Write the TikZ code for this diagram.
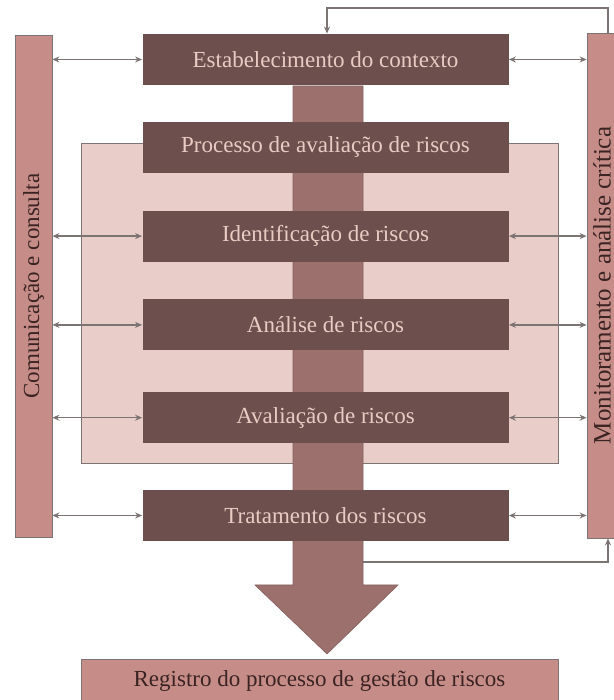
\documentclass[tikz,border=0pt]{standalone}
\usepackage{fontspec}
\setmainfont{Liberation Serif}
\usetikzlibrary{arrows.meta,positioning}
\definecolor{stepdark}{HTML}{6D504D}
\definecolor{steptext}{HTML}{EACBC4}
\definecolor{trunk}{HTML}{9B706D}
\definecolor{sidebar}{HTML}{C68D88}
\definecolor{framefill}{HTML}{E9CDC9}
\definecolor{linkgray}{HTML}{7C7373}
\definecolor{darktext}{HTML}{3A2322}

\begin{document}
\begin{tikzpicture}[x=0.5pt, y=0.5pt,
  stepbox/.style={fill=stepdark, text=steptext, minimum width=183pt,
                  minimum height=25.5pt, inner sep=0pt,
                  font=\fontsize{11.5}{13}\selectfont},
  sidebox/.style={fill=sidebar, draw=linkgray, line width=0.4pt, rotate=90,
                  inner sep=0pt, text=darktext,
                  font=\fontsize{11.5}{13}\selectfont},
  arr/.style={{Stealth[length=3.5pt,width=3pt]}-{Stealth[length=3.5pt,width=3pt]},
              linkgray, line width=0.7pt},
  fb/.style={-{Stealth[length=3.5pt,width=3pt]}, linkgray, line width=0.7pt}
]
  \useasboundingbox (0,0) rectangle (614,700);
  \clip (0,0) rectangle (614,700);

  % frame of the assessment process
  \draw[fill=framefill, draw=linkgray, line width=0.4pt] (81,237) rectangle (558,557);

  % trunk and big arrow
  \filldraw[fill=trunk, draw=trunk!85!black, line width=0.3pt]
    (293,614) -- (293,115) -- (255,115) -- (327,46) -- (398,115)
    -- (363,115) -- (363,614) -- cycle;

  \node[stepbox] (ctx) at (325.5,640.5) {Estabelecimento do contexto};
  \node[stepbox, below=18pt of ctx] (proc) {Processo de avaliação de riscos};
  \node[stepbox, below=18.5pt of proc] (ident) {Identificação de riscos};
  \node[stepbox, below=18.5pt of ident] (anal) {Análise de riscos};
  \node[stepbox, below=20.5pt of anal] (aval) {Avaliação de riscos};
  \node[stepbox, below=23pt of aval] (trat) {Tratamento dos riscos};

  \node[sidebox, minimum width=251pt, minimum height=18.5pt] (comm) at (33.5,414)
    {Comunicação e consulta};
  \node[sidebox, minimum width=252.5pt, minimum height=15pt,
        font=\fontsize{12.5}{14}\selectfont] (mon) at (602,414.5)
    {Monitoramento e análise crítica};

  \node[fill=sidebar, draw=linkgray, line width=0.4pt, text=darktext,
        minimum width=238.5pt, minimum height=22pt, inner sep=0pt,
        font=\fontsize{11.5}{13}\selectfont] (reg) at (319.5,19)
    {Registro do processo de gestão de riscos};

  \foreach \s in {ctx,ident,anal,aval,trat} {
    \draw[arr] (comm.south |- \s) -- (\s.west);
    \draw[arr] (\s.east) -- (mon.north |- \s);
  }

  % feedback loops
  \coordinate (montop) at ([xshift=3pt]mon.east);
  \coordinate (monbot) at ([xshift=3pt]mon.west);
  \coordinate (topturn) at (327,692);
  \draw[fb] (montop) |- (topturn) -- (topturn |- ctx.north);
  \coordinate (botturn) at (363,138);
  \draw[fb] (botturn) -| (monbot);
\end{tikzpicture}
\end{document}
